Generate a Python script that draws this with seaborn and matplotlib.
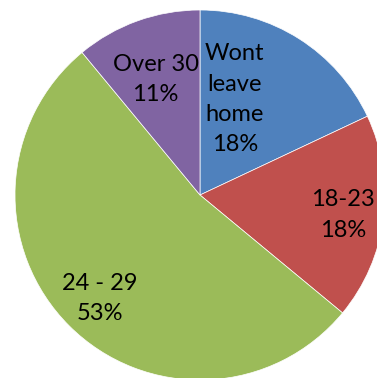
import matplotlib
matplotlib.use("Agg")
import matplotlib.pyplot as plt
import seaborn as sns
import numpy as np

categories = ["Wont\nleave\nhome", "18-23", "24 - 29", "Over 30"]
shares = [18, 18, 53, 11]
colors = ["#4F81BD", "#C0504D", "#9BBB59", "#8064A2"]

# label anchor (angle in degrees, radius as fraction of the pie radius)
label_polar = [(70, 0.55), (-8, 0.78), (226, 0.78), (111, 0.67)]

sns.set_theme(style="white")
plt.rcParams["font.family"] = ["Lato", "DejaVu Sans"]

fig = plt.figure(figsize=(3.77, 3.78), dpi=100)
ax = fig.add_axes([0, 0, 1, 1])
ax.pie(shares, colors=colors, startangle=90, counterclock=False,
       radius=1.0, wedgeprops=dict(edgecolor="white", linewidth=0.5))

for name, val, (ang, r) in zip(categories, shares, label_polar):
    t = np.deg2rad(ang)
    ax.text(r * np.cos(t), r * np.sin(t), f"{name}\n{val}%",
            ha="center", va="center", fontsize=17, color="black",
            linespacing=1.55)

R = 185.0
ax.set_xlim(-200 / R, 177 / R)
ax.set_ylim(-(378 - 195) / R, 195 / R)
ax.set_aspect("auto")
ax.axis("off")
fig.savefig("out.png", dpi=100, facecolor="white")
